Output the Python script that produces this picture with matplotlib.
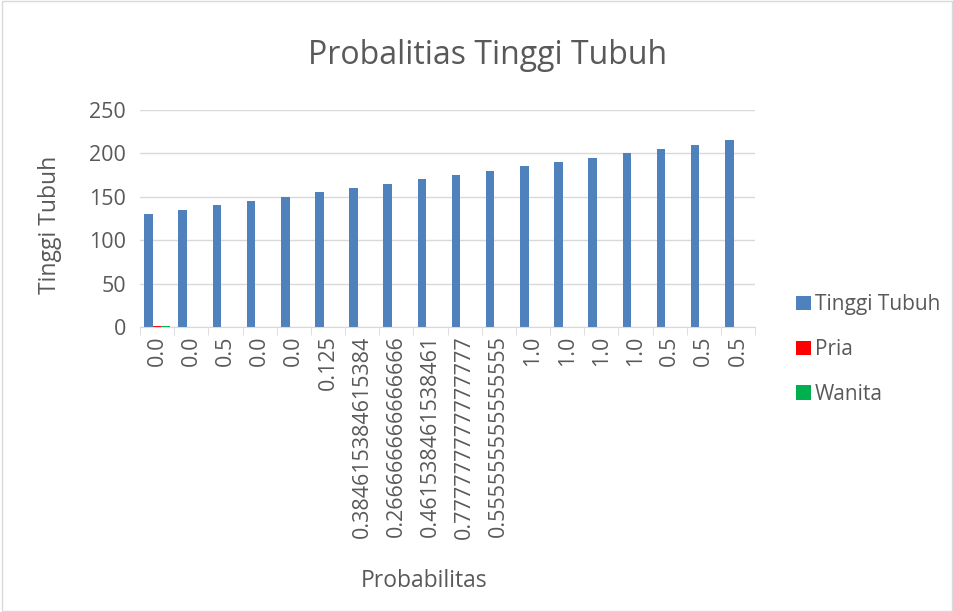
import matplotlib.pyplot as plt
import numpy as np
from matplotlib.patches import Rectangle

plt.rcParams['font.family'] = ['Open Sans', 'DejaVu Sans']

labels = ['0.0', '0.0', '0.5', '0.0', '0.0', '0.125', '0.384615384615384',
          '0.266666666666666', '0.461538461538461', '0.777777777777777',
          '0.555555555555555', '1.0', '1.0', '1.0', '1.0', '0.5', '0.5', '0.5']
tinggi = [130, 135, 140, 145, 150, 155, 160, 165, 170, 175, 180, 185, 190,
          195, 200, 205, 210, 215]
pria = [0.7, 0, 0, 0, 0, 0, 0, 0, 0, 0, 0, 0, 0, 0, 0, 0, 0, 0]
wanita = [0.7, 0, 0, 0, 0, 0, 0, 0, 0, 0, 0, 0, 0, 0, 0, 0, 0, 0]

series = ['Tinggi Tubuh', 'Pria', 'Wanita']
colors = ['#4f81bd', '#ff0000', '#00b050']
text_col = '#595959'

fig = plt.figure(figsize=(9.54, 6.12), dpi=100)
fig.patches.append(Rectangle((0.002, 0.002), 0.996, 0.996, transform=fig.transFigure,
                             fill=False, edgecolor='#d9d9d9', linewidth=1))
ax = fig.add_axes([0.1468, 0.4657, 0.6446, 0.3546])

x = np.arange(len(labels))
w = 0.25
ax.bar(x - w, tinggi, w, color=colors[0], label=series[0])
ax.bar(x, pria, w, color=colors[1], label=series[1])
ax.bar(x + w, wanita, w, color=colors[2], label=series[2])

ax.set_xlim(-0.5, len(labels) - 0.5)
ax.set_ylim(0, 250)
ax.set_yticks(range(0, 251, 50))
ax.yaxis.grid(True, color='#d9d9d9', linewidth=1)
ax.set_axisbelow(True)
for s in ['top', 'right', 'left']:
    ax.spines[s].set_visible(False)
ax.spines['bottom'].set_color('#d9d9d9')
ax.tick_params(axis='y', length=0, labelsize=15.5, labelcolor=text_col, pad=10)
ax.set_xticks(x)
ax.set_xticklabels(labels, rotation=90, fontsize=15.5, color=text_col)
ax.tick_params(axis='x', length=0, pad=6)
ax.set_xticks(np.arange(-0.5, len(labels), 1), minor=True)
ax.tick_params(axis='x', which='minor', length=6, color='#d9d9d9')

fig.text(0.511, 0.91, 'Probalitias Tinggi Tubuh', ha='center', va='center',
         fontsize=23, color=text_col)
fig.text(0.052, 0.633, 'Tinggi Tubuh', rotation=90, ha='center', va='center',
         fontsize=16.5, color=text_col)
fig.text(0.445, 0.05, 'Probabilitas', ha='center', va='center',
         fontsize=16.5, color=text_col)

leg = fig.legend(loc='upper left', bbox_to_anchor=(0.815, 0.55), frameon=False,
                 fontsize=15, handlelength=0.7, handleheight=0.7, handletextpad=0.2,
                 labelspacing=1.15, labelcolor=text_col)

fig.savefig('out.png', dpi=100)
